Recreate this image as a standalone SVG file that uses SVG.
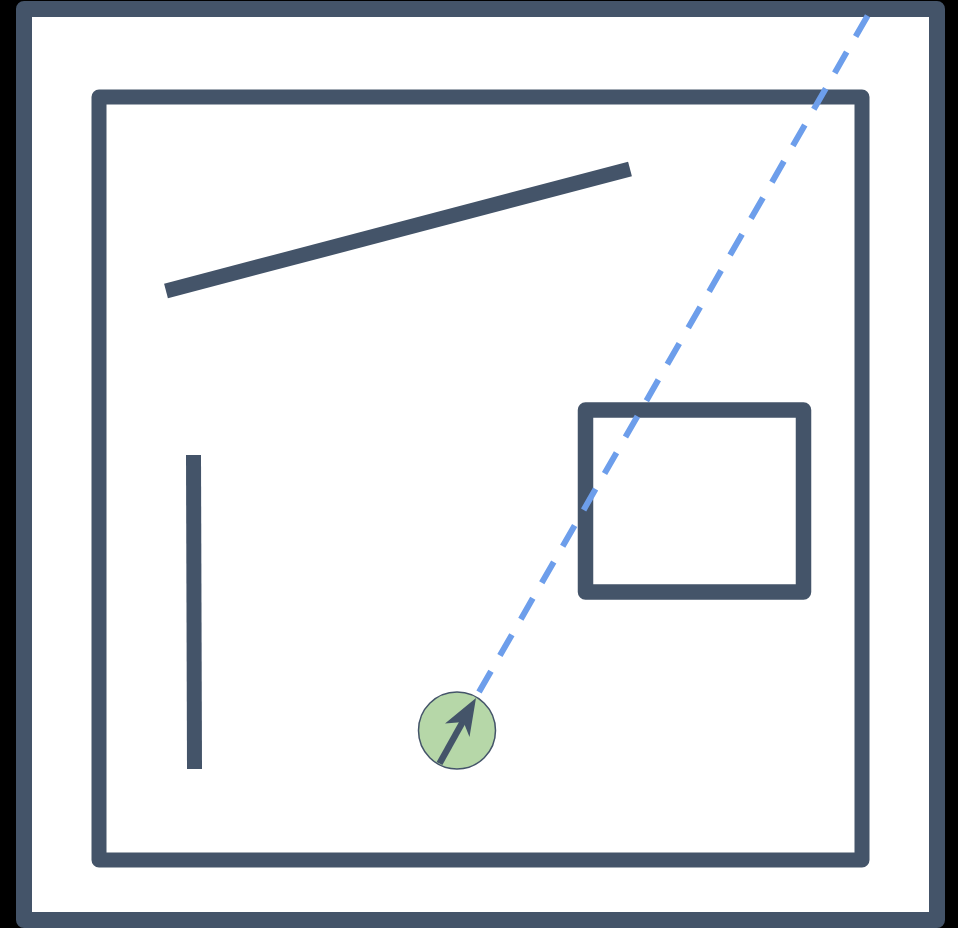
<svg xmlns="http://www.w3.org/2000/svg" width="958" height="928" viewBox="0 0 958 928">
  <style>
    .wall { fill: none; stroke: #445469; stroke-linejoin: round; }
    .seg { stroke: #445469; stroke-width: 15; stroke-linecap: butt; fill: none; }
    .ray { stroke: #6d9eeb; stroke-width: 6; stroke-dasharray: 24 18; fill: none; }
  </style>
  <rect x="0" y="0" width="958" height="928" fill="#000000"/>
  <rect x="24" y="9" width="913" height="911" fill="#ffffff"/>
  <g id="outer-wall">
    <rect x="24" y="9" width="913" height="911" class="wall" stroke-width="16"/>
  </g>
  <g id="inner-wall">
    <rect x="99" y="97" width="763" height="763" class="wall" stroke-width="15"/>
  </g>
  <g id="diagonal-wall">
    <line x1="166" y1="291" x2="630" y2="169" class="seg"/>
  </g>
  <g id="vertical-wall">
    <line x1="193.5" y1="455" x2="194.5" y2="769" class="seg"/>
  </g>
  <g id="box">
    <rect x="585.5" y="410" width="218" height="182" class="wall" stroke-width="15.5"/>
  </g>
  <g id="connectors">
    <line x1="479" y1="692" x2="868" y2="15" class="ray"/>
  </g>
  <g id="robot">
    <circle cx="457" cy="730.5" r="38.5" fill="#b6d7a8" stroke="#445469" stroke-width="1.5"/>
    <line x1="439.5" y1="763.5" x2="466" y2="716" stroke="#445469" stroke-width="6.5"/>
    <polygon points="476,698 469.5,737 463.5,722 445,723.5" fill="#445469"/>
  </g>
</svg>
